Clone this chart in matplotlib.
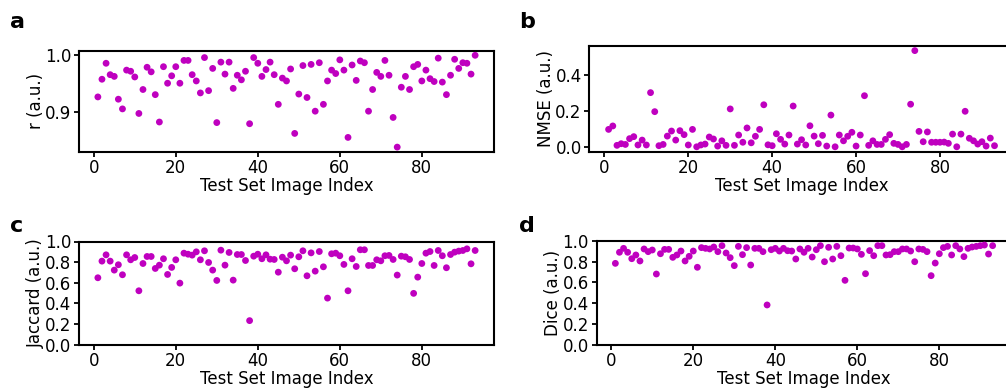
import matplotlib
matplotlib.use("Agg")
import matplotlib.pyplot as plt
import numpy as np

# ---------------- data ----------------
image_index = list(range(1, 94))

r_values = [0.926, 0.957, 0.985, 0.965, 0.962, 0.922, 0.905, 0.973, 0.971, 0.961,
            0.897, 0.939, 0.978, 0.970, 0.930, 0.882, 0.979, 0.950, 0.963, 0.979,
            0.950, 0.990, 0.990, 0.965, 0.954, 0.933, 0.995, 0.937, 0.976, 0.881,
            0.987, 0.966, 0.987, 0.941, 0.964, 0.956, 0.971, 0.879, 0.995, 0.985,
            0.962, 0.974, 0.987, 0.965, 0.913, 0.959, 0.954, 0.975, 0.862, 0.931,
            0.981, 0.925, 0.983, 0.901, 0.986, 0.913, 0.954, 0.973, 0.967, 0.991,
            0.973, 0.855, 0.982, 0.955, 0.989, 0.986, 0.901, 0.939, 0.969, 0.962,
            0.990, 0.964, 0.890, 0.838, 0.943, 0.962, 0.939, 0.979, 0.983, 0.954,
            0.973, 0.958, 0.953, 0.994, 0.952, 0.930, 0.964, 0.992, 0.976, 0.986,
            0.985, 0.966, 0.999]

nmse_values = [0.099, 0.118, 0.011, 0.020, 0.016, 0.048, 0.059, 0.013, 0.040, 0.013,
               0.302, 0.197, 0.009, 0.016, 0.062, 0.090, 0.040, 0.092, 0.070, 0.013,
               0.099, 0.003, 0.013, 0.018, 0.057, 0.046, 0.007, 0.036, 0.011, 0.212,
               0.011, 0.068, 0.028, 0.107, 0.025, 0.061, 0.099, 0.235, 0.014, 0.009,
               0.075, 0.044, 0.018, 0.068, 0.228, 0.018, 0.042, 0.013, 0.119, 0.062,
               0.020, 0.066, 0.007, 0.178, 0.003, 0.068, 0.036, 0.061, 0.083, 0.007,
               0.068, 0.285, 0.011, 0.036, 0.016, 0.016, 0.044, 0.070, 0.022, 0.016,
               0.003, 0.016, 0.238, 0.534, 0.088, 0.031, 0.085, 0.028, 0.028, 0.028,
               0.029, 0.022, 0.073, 0.003, 0.073, 0.199, 0.050, 0.036, 0.018, 0.031,
               0.007, 0.051, 0.009]

jaccard_values = [0.649, 0.810, 0.871, 0.810, 0.723, 0.775, 0.678, 0.871, 0.823, 0.845,
                  0.523, 0.787, 0.855, 0.855, 0.739, 0.771, 0.833, 0.681, 0.749, 0.823,
                  0.597, 0.887, 0.877, 0.868, 0.900, 0.823, 0.910, 0.797, 0.723, 0.623,
                  0.916, 0.771, 0.894, 0.626, 0.874, 0.874, 0.816, 0.234, 0.858, 0.877,
                  0.833, 0.871, 0.829, 0.826, 0.703, 0.848, 0.813, 0.868, 0.736, 0.852,
                  0.910, 0.668, 0.890, 0.713, 0.903, 0.755, 0.452, 0.881, 0.887, 0.862,
                  0.778, 0.523, 0.833, 0.758, 0.920, 0.920, 0.768, 0.768, 0.823, 0.813,
                  0.862, 0.865, 0.826, 0.675, 0.858, 0.852, 0.826, 0.498, 0.655, 0.787,
                  0.887, 0.903, 0.768, 0.913, 0.862, 0.746, 0.874, 0.897, 0.907, 0.913,
                  0.929, 0.784, 0.913]

dice_values = [0.784, 0.891, 0.929, 0.891, 0.829, 0.865, 0.807, 0.923, 0.897, 0.913,
               0.681, 0.877, 0.919, 0.919, 0.842, 0.865, 0.903, 0.807, 0.852, 0.903,
               0.746, 0.936, 0.929, 0.923, 0.942, 0.897, 0.955, 0.884, 0.839, 0.762,
               0.948, 0.868, 0.936, 0.768, 0.929, 0.929, 0.897, 0.382, 0.916, 0.929,
               0.903, 0.929, 0.906, 0.903, 0.826, 0.923, 0.891, 0.929, 0.845, 0.916,
               0.955, 0.800, 0.939, 0.826, 0.948, 0.858, 0.620, 0.932, 0.932, 0.923,
               0.871, 0.684, 0.907, 0.858, 0.955, 0.955, 0.865, 0.868, 0.897, 0.897,
               0.923, 0.923, 0.903, 0.800, 0.923, 0.919, 0.897, 0.665, 0.787, 0.877,
               0.936, 0.948, 0.865, 0.955, 0.923, 0.849, 0.929, 0.942, 0.948, 0.955,
               0.961, 0.874, 0.955]

panel_letters = ["a", "b", "c", "d"]
y_labels = ["r (a.u.)", "NMSE (a.u.)", "Jaccard (a.u.)", "Dice (a.u.)"]
x_label = "Test Set Image Index"

# ---------------- figure ----------------
W, H = 1006, 390
fig = plt.figure(figsize=(W / 100, H / 100), dpi=100)
plt.rcParams['font.family'] = ['DejaVu Sans']

def px_axes(left, top, right, bottom):
    return fig.add_axes([left / W, 1 - bottom / H, (right - left) / W, (bottom - top) / H])

boxes = [
    (79, 50.7, 494, 151.7),
    (589.3, 45.8, 1013.8, 151.6),
    (79, 241.5, 494, 344.8),
    (596.5, 241.0, 1011.5, 344.5),
]
series = [r_values, nmse_values, jaccard_values, dice_values]
color = "#BF00BF"
fs = 12

for k, (box, vals) in enumerate(zip(boxes, series)):
    ax = px_axes(*box)
    ax.scatter(image_index, vals, s=24, color=color, edgecolors="none", zorder=3)
    ax.set_xlabel(x_label, fontsize=fs, labelpad=0)
    ax.set_ylabel(y_labels[k], fontsize=fs, labelpad=0)
    ax.set_xticks([0, 20, 40, 60, 80])
    ax.tick_params(labelsize=fs, width=1.3, length=3.5, pad=2)
    for sp in ax.spines.values():
        sp.set_linewidth(1.5)
    if k == 0:
        ax.set_yticks([0.9, 1.0])
    elif k == 1:
        ax.set_yticks([0.0, 0.2, 0.4])
    else:
        ax.set_ylim(0, 1.0)
        ax.set_yticks([0.0, 0.2, 0.4, 0.6, 0.8, 1.0])

letter_pos = [(10, 22), (519, 22), (10, 226), (519, 226)]
for letter, (lx, ly) in zip(panel_letters, letter_pos):
    fig.text(lx / W, 1 - ly / H, letter, fontsize=16, fontweight="bold", va="center", ha="left")

fig.savefig("out.png", dpi=100)
